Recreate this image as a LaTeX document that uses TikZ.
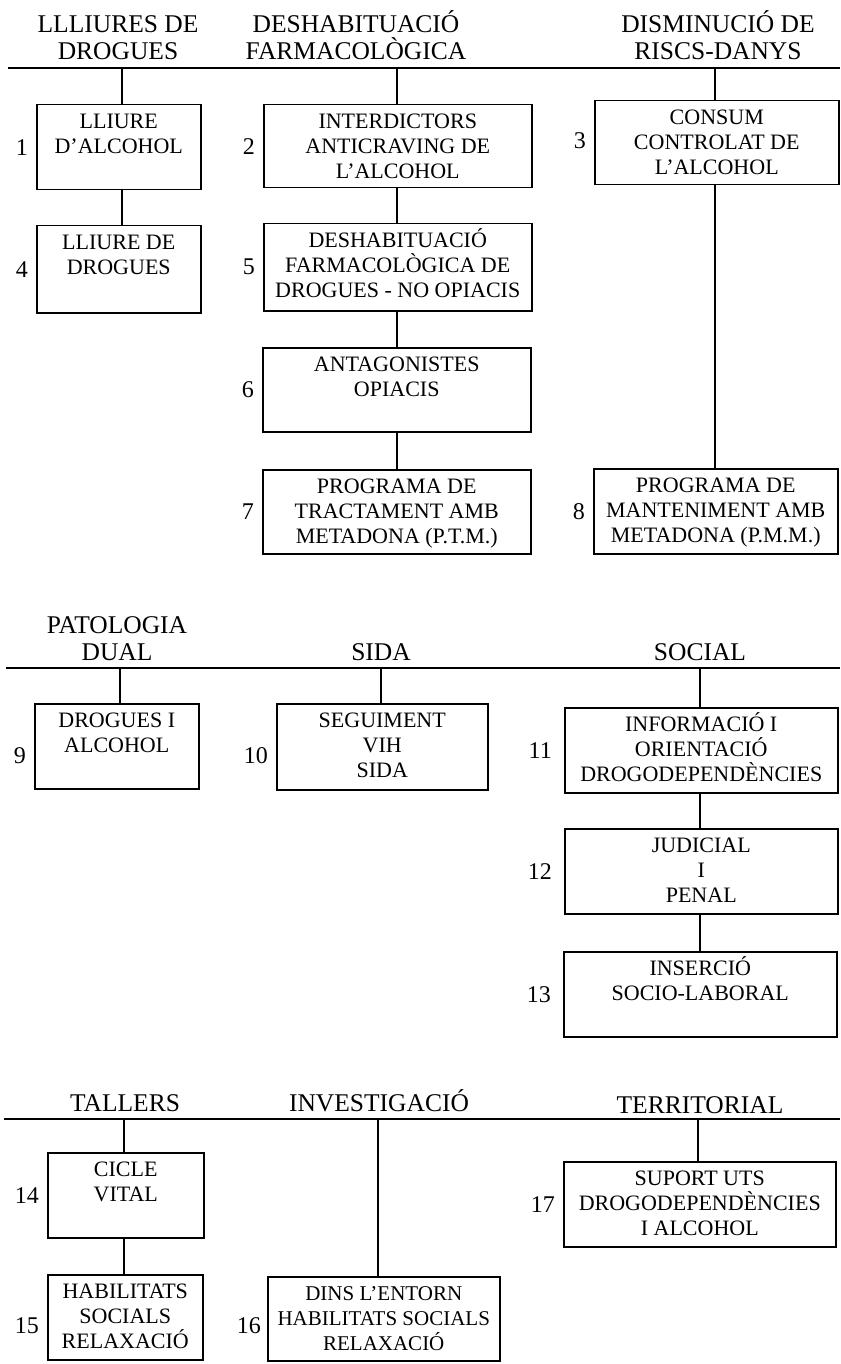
\documentclass[tikz,border=0pt]{standalone}
\usepackage{fontspec}
\setmainfont{Liberation Serif}
\tikzset{
  box/.style={draw, line width=1.5pt, inner sep=0pt, anchor=north west, font=\fontsize{22}{25}\selectfont},
  num/.style={inner sep=0pt, anchor=east, font=\fontsize{24}{25}\selectfont},
  head/.style={inner sep=0pt, anchor=base, font=\fontsize{25.5}{27}\selectfont},
  hline/.style={line width=1.5pt},
  conn/.style={line width=1.1pt},
}
\newcommand{\boxat}[6]{%
  \pgfmathsetmacro{\bw}{#4-#2}%
  \pgfmathsetmacro{\bh}{#5-#3}%
  \node[box] (#1) at (#2,#3) {\parbox[c][\bh pt][t]{\bw pt}{\centering\rule{0pt}{24pt}#6}};%
}
\begin{document}
\begin{tikzpicture}[x=1pt,y=-1pt]
\useasboundingbox (0,0) rectangle (840,1364);

% ---------- Section 1 ----------
\node[head] (h1a) at (118,33) {LLLIURES DE};
\node[head] (h1b) at (118,60) {DROGUES};
\node[head] (h2a) at (356,33) {DESHABITUACIÓ};
\node[head] (h2b) at (356,60) {FARMACOLÒGICA};
\node[head] (h3a) at (718,33) {DISMINUCIÓ DE};
\node[head] (h3b) at (718,60) {RISCS-DANYS};
\coordinate (s1a) at (8,68);
\coordinate (s1b) at (840,68);
\draw[hline] (s1a) -- (s1b);
\coordinate (j1) at (122,68);
\coordinate (j2) at (397,68);
\coordinate (j3) at (715,68);

\boxat{b1}{36}{104}{200}{189}{LLIURE\\D’ALCOHOL}
\boxat{b4}{36}{225}{200}{312}{LLIURE DE\\DROGUES}
\boxat{b2}{263}{104}{531}{187}{INTERDICTORS\\ANTICRAVING DE\\L’ALCOHOL}
\boxat{b5}{263}{223}{531}{310}{DESHABITUACIÓ\\FARMACOLÒGICA DE\\DROGUES - NO OPIACIS}
\boxat{b6}{262}{347}{530}{431}{ANTAGONISTES\\OPIACIS}
\boxat{b7}{262}{469}{530}{553}{PROGRAMA DE\\TRACTAMENT AMB\\METADONA (P.T.M.)}
\boxat{b3}{594}{100}{838}{184}{CONSUM\\CONTROLAT DE\\L’ALCOHOL}
\boxat{b8}{593}{468}{837}{553}{PROGRAMA DE\\MANTENIMENT AMB\\METADONA (P.M.M.)}

\draw[conn] (j1) -- (j1 |- b1.north);
\draw[conn] (b1.south -| j1) -- (b4.north -| j1);
\draw[conn] (j2) -- (j2 |- b2.north);
\draw[conn] (b2.south -| j2) -- (b5.north -| j2);
\draw[conn] (b5.south -| j2) -- (b6.north -| j2);
\draw[conn] (b6.south -| j2) -- (b7.north -| j2);
\draw[conn] (j3) -- (j3 |- b3.north);
\draw[conn] (b3.south -| j3) -- (b8.north -| j3);

\node[num] (n1) at ([xshift=-8pt]b1.west) {1};
\node[num] (n4) at ([xshift=-8pt]b4.west) {4};
\node[num] (n2) at ([xshift=-8pt]b2.west) {2};
\node[num] (n5) at ([xshift=-8pt]b5.west) {5};
\node[num] (n6) at ([xshift=-8pt]b6.west) {6};
\node[num] (n7) at ([xshift=-8pt]b7.west) {7};
\node[num] (n3) at ([xshift=-8pt,yshift=2pt]b3.west) {3};
\node[num] (n8) at ([xshift=-8pt]b8.west) {8};

% ---------- Section 2 ----------
\node[head] (h4a) at (117,633) {PATOLOGIA};
\node[head] (h4b) at (117,660) {DUAL};
\node[head] (h5) at (381,660) {SIDA};
\node[head] (h6) at (700,660) {SOCIAL};
\coordinate (s2a) at (6,668);
\coordinate (s2b) at (840,668);
\draw[hline] (s2a) -- (s2b);
\coordinate (j4) at (120,668);
\coordinate (j5) at (381,668);
\coordinate (j6) at (700,668);

\boxat{b9}{34}{703}{198}{788}{DROGUES I\\ALCOHOL}
\boxat{b10}{276}{703}{487}{789}{SEGUIMENT\\VIH\\SIDA}
\boxat{b11}{564}{707}{837}{792}{INFORMACIÓ I\\ORIENTACIÓ\\DROGODEPENDÈNCIES}
\boxat{b12}{564}{828}{837}{913}{JUDICIAL\\I\\PENAL}
\boxat{b13}{563}{951}{836}{1036}{INSERCIÓ\\SOCIO-LABORAL}

\draw[conn] (j4) -- (j4 |- b9.north);
\draw[conn] (j5) -- (j5 |- b10.north);
\draw[conn] (j6) -- (j6 |- b11.north);
\draw[conn] (b11.south -| j6) -- (b12.north -| j6);
\draw[conn] (b12.south -| j6) -- (b13.north -| j6);

\node[num] (n9) at ([xshift=-8pt,yshift=-9pt]b9.west) {9};
\node[num] (n10) at ([xshift=-8pt,yshift=-9pt]b10.west) {10};
\node[num] (n11) at ([xshift=-12pt]b11.west) {11};
\node[num] (n12) at ([xshift=-12pt]b12.west) {12};
\node[num] (n13) at ([xshift=-12pt]b13.west) {13};

% ---------- Section 3 ----------
\node[head] (h7) at (125,1111) {TALLERS};
\node[head] (h8) at (379,1111) {INVESTIGACIÓ};
\node[head] (h9) at (700,1113) {TERRITORIAL};
\coordinate (s3a) at (4,1119);
\coordinate (s3b) at (840,1119);
\draw[hline] (s3a) -- (s3b);
\coordinate (j7) at (124,1119);
\coordinate (j8) at (378,1119);
\coordinate (j9) at (698,1119);

\boxat{b14}{47}{1152}{203}{1237}{CICLE\\VITAL}
\boxat{b15}{47}{1274}{202}{1359}{HABILITATS\\SOCIALS\\RELAXACIÓ}
\boxat{b16}{267}{1276}{499}{1360}{\fontsize{21}{25}\selectfont DINS L’ENTORN\\HABILITATS SOCIALS\\RELAXACIÓ}
\boxat{b17}{563}{1161}{835}{1246}{SUPORT UTS\\DROGODEPENDÈNCIES\\I ALCOHOL}

\draw[conn] (j7) -- (j7 |- b14.north);
\draw[conn] (b14.south -| j7) -- (b15.north -| j7);
\draw[conn] (j8) -- (j8 |- b16.north);
\draw[conn] (j9) -- (j9 |- b17.north);

\node[num] (n14) at ([xshift=-8pt]b14.west) {14};
\node[num] (n15) at ([xshift=-8pt,yshift=-8pt]b15.west) {15};
\node[num] (n16) at ([xshift=-6pt,yshift=-7pt]b16.west) {16};
\node[num] (n17) at ([xshift=-8pt]b17.west) {17};
\end{tikzpicture}
\end{document}
